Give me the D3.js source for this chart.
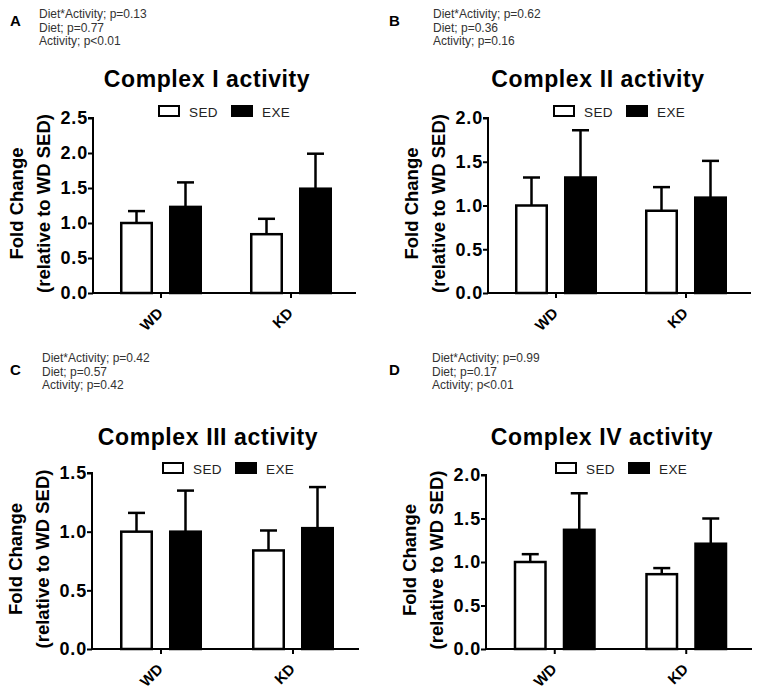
<!DOCTYPE html>
<html>
<head>
<meta charset="utf-8">
<script src="https://cdn.jsdelivr.net/npm/d3@7/dist/d3.min.js"></script>
<style>
  html, body { margin: 0; padding: 0; background: #fff; }
  svg { display: block; }
  text { font-family: Arial, "Liberation Sans", Helvetica, sans-serif; }
</style>
</head>
<body>
<svg id="chart" width="758" height="690"></svg>
<script>
// ---------------- DATA ----------------
const categories = ["WD", "KD"];
const series = ["SED", "EXE"];
const panelLetters = ["A", "B", "C", "D"];
const titles = ["Complex I activity", "Complex II activity", "Complex III activity", "Complex IV activity"];
const statsText = [
  ["Diet*Activity; p=0.13", "Diet; p=0.77", "Activity; p<0.01"],
  ["Diet*Activity; p=0.62", "Diet; p=0.36", "Activity; p=0.16"],
  ["Diet*Activity; p=0.42", "Diet; p=0.57", "Activity; p=0.42"],
  ["Diet*Activity; p=0.99", "Diet; p=0.17", "Activity; p<0.01"]
];
const yMax = [2.5, 2.0, 1.5, 2.0];
const yTicks = [
  [0, 0.5, 1.0, 1.5, 2.0, 2.5],
  [0, 0.5, 1.0, 1.5, 2.0],
  [0, 0.5, 1.0, 1.5],
  [0, 0.5, 1.0, 1.5, 2.0]
];
// means (WD, KD) and SEM (upper error) per complex
const sedMean = [[1.00, 0.84], [1.00, 0.94], [1.00, 0.84], [1.00, 0.86]];
const sedErr  = [[0.17, 0.22], [0.32, 0.27], [0.16, 0.17], [0.09, 0.07]];
const exeMean = [[1.23, 1.49], [1.32, 1.09], [1.00, 1.03], [1.37, 1.21]];
const exeErr  = [[0.35, 0.50], [0.54, 0.42], [0.35, 0.35], [0.42, 0.29]];
const yLabel1 = "Fold Change";
const yLabel2 = "(relative to WD SED)";

// ---------------- LAYOUT ----------------
const layout = [
  {ax: 93,  ex: 356, top: 118, bot: 293, tx: 207, ty: 87,  lx: 159, ly: 106, px: 10,  py: 26,  sx: 39,  sy: 18},
  {ax: 488, ex: 751, top: 118, bot: 293, tx: 598, ty: 87,  lx: 554, ly: 106, px: 389, py: 26,  sx: 433, sy: 18},
  {ax: 92,  ex: 359, top: 473, bot: 649, tx: 208, ty: 445, lx: 163, ly: 463, px: 10,  py: 375, sx: 42,  sy: 362},
  {ax: 486, ex: 752, top: 475, bot: 649, tx: 602, ty: 445, lx: 556, ly: 463, px: 389, py: 375, sx: 432, sy: 362}
];

const svg = d3.select("#chart");
const fills = {SED: "#ffffff", EXE: "#000000"};

layout.forEach((L, i) => {
  const g = svg.append("g");

  // panel letter
  g.append("text").attr("x", L.px).attr("y", L.py)
    .attr("font-size", 15).attr("font-weight", "bold").attr("fill", "#000")
    .text(panelLetters[i]);

  // stats annotation
  statsText[i].forEach((t, k) => {
    g.append("text").attr("x", L.sx).attr("y", L.sy + k * 13.5)
      .attr("font-size", 12).attr("fill", "#333").text(t);
  });

  // title
  g.append("text").attr("x", L.tx).attr("y", L.ty)
    .attr("text-anchor", "middle").attr("font-size", 23).attr("font-weight", "bold")
    .attr("letter-spacing", 0.6).attr("fill", "#000").text(titles[i]);

  // scales
  const y = d3.scaleLinear().domain([0, yMax[i]]).range([L.bot, L.top]);
  const x = d3.scaleBand().domain(categories).range([L.ax + 3, L.ex]).padding(0);
  const xi = d3.scaleBand().domain(series).range([-57, 57]).padding(0.3265);

  // legend
  series.forEach((s, k) => {
    const bx = L.lx + k * 73;
    g.append("rect").attr("x", bx).attr("y", L.ly).attr("width", 20).attr("height", 10)
      .attr("fill", fills[s]).attr("stroke", "#000").attr("stroke-width", 2);
    g.append("text").attr("x", bx + 30).attr("y", L.ly + 10.5)
      .attr("font-size", 13.5).attr("letter-spacing", 0.4).attr("fill", "#222").text(s);
  });

  // bars and error bars
  const rows = [];
  categories.forEach((c, ci) => {
    rows.push({cat: c, s: "SED", m: sedMean[i][ci], e: sedErr[i][ci]});
    rows.push({cat: c, s: "EXE", m: exeMean[i][ci], e: exeErr[i][ci]});
  });
  const bw = xi.bandwidth();
  rows.forEach(r => {
    const cx = x(r.cat) + x.bandwidth() / 2 + xi(r.s) + bw / 2;
    g.append("line").attr("x1", cx).attr("x2", cx)
      .attr("y1", y(r.m)).attr("y2", y(r.m + r.e))
      .attr("stroke", "#000").attr("stroke-width", 2.5);
    g.append("line").attr("x1", cx - 8.5).attr("x2", cx + 8.5)
      .attr("y1", y(r.m + r.e)).attr("y2", y(r.m + r.e))
      .attr("stroke", "#000").attr("stroke-width", 2.5);
    g.append("rect")
      .attr("x", cx - bw / 2 + 1.25).attr("y", y(r.m))
      .attr("width", bw - 2.5).attr("height", y(0) - y(r.m))
      .attr("fill", fills[r.s]).attr("stroke", "#000").attr("stroke-width", 2.5);
  });

  // y axis
  const yAxis = d3.axisLeft(y).tickValues(yTicks[i]).tickFormat(d3.format(".1f"))
    .tickSize(5).tickPadding(0);
  const ya = g.append("g").attr("transform", `translate(${L.ax},0)`).call(yAxis);
  ya.select(".domain").attr("stroke", "#000").attr("stroke-width", 2)
    .attr("d", `M-5,${L.top}H0V${L.bot}`);
  ya.selectAll(".tick line").attr("stroke", "#000").attr("stroke-width", 2);
  ya.selectAll(".tick text").attr("font-size", 18).attr("font-weight", "bold")
    .attr("letter-spacing", 0.8).attr("fill", "#000").attr("font-family", "Arial, 'Liberation Sans', sans-serif");

  // x axis
  const xAxis = d3.axisBottom(x).tickSize(5).tickFormat("");
  const xa = g.append("g").attr("transform", `translate(0,${L.bot})`).call(xAxis);
  xa.select(".domain").attr("stroke", "#000").attr("stroke-width", 2)
    .attr("d", `M${L.ax},0H${L.ex}`);
  xa.selectAll(".tick line").attr("stroke", "#000").attr("stroke-width", 2);
  xa.selectAll(".tick").append("text")
    .attr("transform", "translate(3,21) rotate(-45)")
    .attr("text-anchor", "end")
    .attr("font-size", 15).attr("font-weight", "bold").attr("fill", "#000")
    .attr("font-family", "Arial, 'Liberation Sans', sans-serif")
    .text(d => d);

  // y labels
  const cy = (L.top + L.bot) / 2 - 2;
  g.append("text").attr("transform", `translate(${L.ax - 70},${cy}) rotate(-90)`)
    .attr("text-anchor", "middle").attr("font-size", 18.5).attr("font-weight", "bold")
    .attr("fill", "#000").text(yLabel1);
  g.append("text").attr("transform", `translate(${L.ax - 43},${cy}) rotate(-90)`)
    .attr("text-anchor", "middle").attr("font-size", 18.5).attr("font-weight", "bold")
    .attr("fill", "#000").text(yLabel2);
});
</script>
</body>
</html>
